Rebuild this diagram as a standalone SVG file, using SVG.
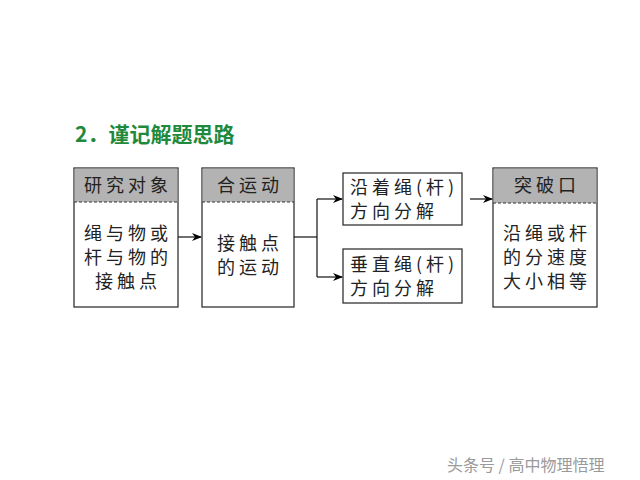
<svg xmlns="http://www.w3.org/2000/svg" width="640" height="480" viewBox="0 0 640 480">
<defs>
<marker id="ah" markerWidth="10" markerHeight="8" refX="9" refY="4" orient="auto" markerUnits="userSpaceOnUse">
<path d="M0,0 L10,4 L0,8 L3,4 Z" fill="#000"/>
</marker>
<style>
.box{fill:#fff;stroke:#333;stroke-width:1.3}
.hd{fill:#b3b3b3;stroke:none}
.dash{stroke:#333;stroke-width:1;stroke-dasharray:3,2}
.t{font-family:"Noto Sans CJK SC","Noto Sans CJK JP",sans-serif;font-size:18px;fill:#222;letter-spacing:4px}
.c{fill:none;stroke:#111;stroke-width:1.2}
</style>
</defs>
<rect width="640" height="480" fill="#fff"/>
<text x="75" y="142" font-family="Noto Sans CJK SC, sans-serif" font-size="21" font-weight="bold" fill="#1f8a3c">2．谨记解题思路</text>

<g id="n1">
<rect class="box" x="74" y="168" width="104" height="139"/>
<rect class="hd" x="74.7" y="168.7" width="102.6" height="33.3"/>
<line class="dash" x1="74" y1="202" x2="178" y2="202"/>
<text class="t" x="128" y="192" text-anchor="middle">研究对象</text>
<text class="t" x="128" y="240" text-anchor="middle">绳与物或</text>
<text class="t" x="128" y="264" text-anchor="middle">杆与物的</text>
<text class="t" x="128" y="288" text-anchor="middle">接触点</text>
</g>

<g id="n2">
<rect class="box" x="202" y="168" width="92" height="139"/>
<rect class="hd" x="202.7" y="168.7" width="90.6" height="33.3"/>
<line class="dash" x1="202" y1="202" x2="294" y2="202"/>
<text class="t" x="250" y="192" text-anchor="middle">合运动</text>
<text class="t" x="250" y="250" text-anchor="middle">接触点</text>
<text class="t" x="250" y="274" text-anchor="middle">的运动</text>
</g>

<g id="n3">
<rect class="box" x="343" y="173" width="119" height="52"/>
<text class="t" x="350" y="194">沿着绳(杆)</text>
<text class="t" x="350" y="218">方向分解</text>
</g>

<g id="n4">
<rect class="box" x="343" y="249" width="119" height="54"/>
<text class="t" x="350" y="271">垂直绳(杆)</text>
<text class="t" x="350" y="295">方向分解</text>
</g>

<g id="n5">
<rect class="box" x="493" y="168" width="104" height="139"/>
<rect class="hd" x="493.7" y="168.7" width="102.6" height="34.3"/>
<line class="dash" x1="493" y1="203" x2="597" y2="203"/>
<text class="t" x="547" y="192" text-anchor="middle">突破口</text>
<text class="t" x="547" y="240" text-anchor="middle">沿绳或杆</text>
<text class="t" x="547" y="264" text-anchor="middle">的分速度</text>
<text class="t" x="547" y="288" text-anchor="middle">大小相等</text>
</g>

<g id="connectors">
<line class="c" x1="178" y1="237" x2="201" y2="237" marker-end="url(#ah)"/>
<polyline class="c" points="294,237 317,237"/>
<polyline class="c" points="317,199 317,277"/>
<line class="c" x1="317" y1="199" x2="342" y2="199" marker-end="url(#ah)"/>
<line class="c" x1="317" y1="277" x2="342" y2="277" marker-end="url(#ah)"/>
<line class="c" x1="470" y1="199" x2="492" y2="199" marker-end="url(#ah)"/>
</g>

<text x="447" y="471" font-family="Noto Sans CJK SC, sans-serif" font-size="16" fill="#9a9a9a">头条号 / 高中物理悟理</text>
</svg>
